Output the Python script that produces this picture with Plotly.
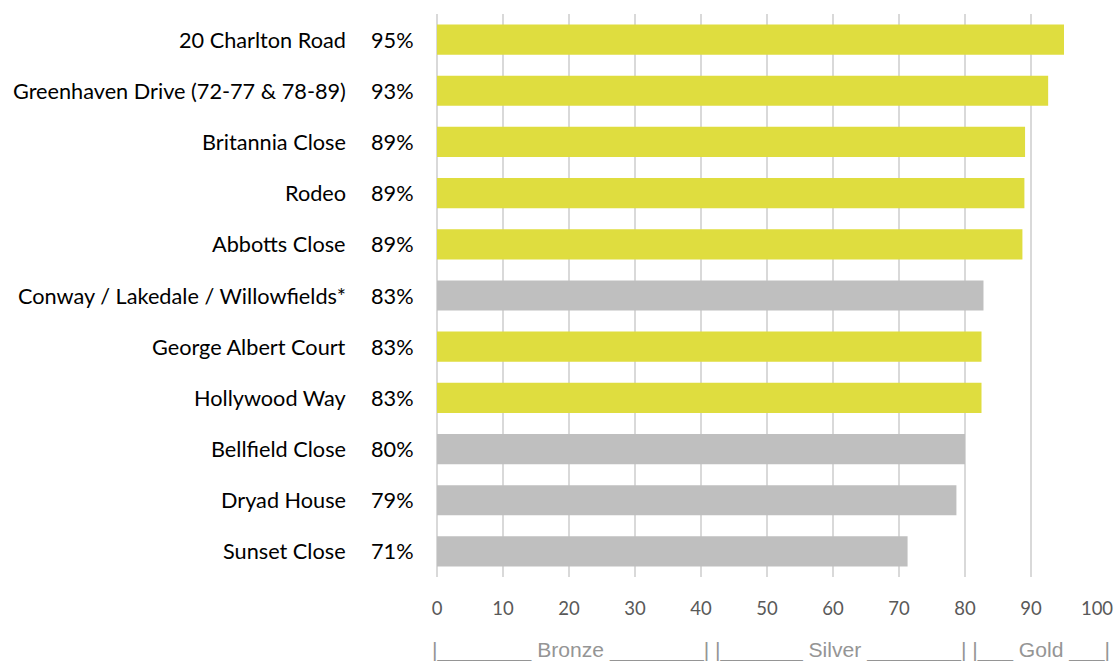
import plotly.graph_objects as go

categories = ["20 Charlton Road", "Greenhaven Drive (72-77 & 78-89)", "Britannia Close", "Rodeo",
              "Abbotts Close", "Conway / Lakedale / Willowfields*", "George Albert Court",
              "Hollywood Way", "Bellfield Close", "Dryad House", "Sunset Close"]
values = [95.0, 92.6, 89.1, 89.0, 88.7, 82.8, 82.5, 82.5, 80.0, 78.7, 71.3]
pct_labels = ["95%", "93%", "89%", "89%", "89%", "83%", "83%", "83%", "80%", "79%", "71%"]
bar_colors = ["#DFDD3F", "#DFDD3F", "#DFDD3F", "#DFDD3F", "#DFDD3F", "#BFBFBF",
              "#DFDD3F", "#DFDD3F", "#BFBFBF", "#BFBFBF", "#BFBFBF"]
x_ticks = [0, 10, 20, 30, 40, 50, 60, 70, 80, 90, 100]
band_text = "|________ Bronze ________| |_______ Silver ________| |___ Gold ___|"

fig = go.Figure(go.Bar(
    x=values, y=categories, orientation="h",
    marker=dict(color=bar_colors, line=dict(width=0)),
    hoverinfo="skip",
))

annotations = []
for cat, pct in zip(categories, pct_labels):
    annotations.append(dict(x=0, xref="paper", y=cat, yref="y", text=cat, showarrow=False,
                            xanchor="right", xshift=-89,
                            font=dict(family="Lato", size=21.7, color="#000000")))
    annotations.append(dict(x=0, xref="paper", y=cat, yref="y", text=pct, showarrow=False,
                            xanchor="right", xshift=-21,
                            font=dict(family="Lato", size=21.7, color="#000000")))
annotations.append(dict(x=0, xref="paper", y=0, yref="paper", yshift=-73, xshift=-7,
                        text=band_text, showarrow=False, xanchor="left", yanchor="middle",
                        font=dict(family="Liberation Sans", size=21.1, color="#959595")))

fig.update_layout(
    width=1117, height=661,
    margin=dict(l=437, r=20, t=14, b=84),
    plot_bgcolor="white", paper_bgcolor="white",
    bargap=0.41, showlegend=False,
    annotations=annotations,
    xaxis=dict(range=[0, 100], tickvals=x_ticks, showgrid=True, gridcolor="#D9D9D9",
               gridwidth=2, zeroline=True, zerolinecolor="#D9D9D9", zerolinewidth=2,
               ticks="", ticklabelstandoff=18, automargin=False,
               tickfont=dict(family="Lato", size=18.5, color="#595959"),
               showline=False, fixedrange=True),
    yaxis=dict(autorange="reversed", showticklabels=False, ticks="", showgrid=False,
               zeroline=False, showline=False, fixedrange=True, automargin=False),
)

fig.write_html("out.html")
